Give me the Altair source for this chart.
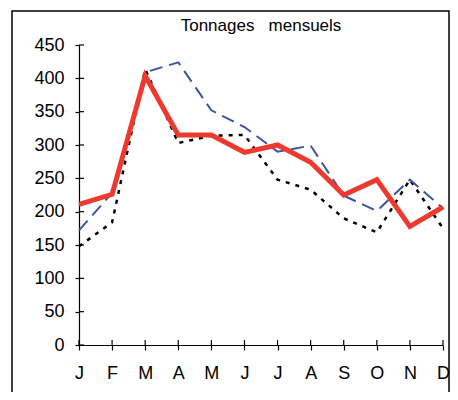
import altair as alt
import pandas as pd

month_labels = ["J", "F", "M", "A", "M", "J", "J", "A", "S", "O", "N", "D"]
serie_rouge = [211, 226, 404, 315, 315, 289, 300, 274, 225, 248, 178, 207]
serie_bleue = [172, 228, 409, 424, 352, 327, 290, 299, 224, 201, 248, 205]
serie_noire = [148, 184, 414, 303, 314, 315, 248, 233, 190, 169, 248, 175]
y_ticks = [0, 50, 100, 150, 200, 250, 300, 350, 400, 450]

rows = []
for name, vals in [("noire", serie_noire), ("bleue", serie_bleue), ("rouge", serie_rouge)]:
    for i, v in enumerate(vals):
        rows.append({"idx": i, "serie": name, "valeur": v})
df = pd.DataFrame(rows)

W, H = 364, 300
x_idx = list(range(len(month_labels)))
label_expr = "%s[datum.value]" % str(month_labels)

x_scale = alt.Scale(domain=[0, 11], nice=False, zero=False)
y_scale = alt.Scale(domain=[0, 450], nice=False, zero=True)

x_axis = alt.Axis(title=None, values=x_idx, labelExpr=label_expr, labelAngle=0,
                  labelFont="Liberation Sans", labelFontSize=18,
                  labelColor="black", labelPadding=14, tickSize=5,
                  tickColor="black", domainColor="black", labelFlush=False,
                  labelOverlap=False, tickWidth=1.2, domainWidth=1.2, grid=False)
y_axis = alt.Axis(title=None, values=y_ticks, labelFont="Liberation Sans",
                  labelFontSize=18, labelColor="black", labelPadding=11,
                  tickSize=4, tickColor="black", domainColor="black",
                  labelFlush=False, labelOverlap=False,
                  tickWidth=1.2, domainWidth=1.2, grid=False)
x_enc = alt.X("idx:Q", scale=x_scale, axis=x_axis)
y_enc = alt.Y("valeur:Q", scale=y_scale, axis=y_axis)

def line(name, color, width, dash=None):
    kw = dict(color=color, strokeWidth=width, strokeJoin="miter")
    if dash:
        kw["strokeDash"] = dash
    return alt.Chart(df[df.serie == name]).mark_line(**kw).encode(
        x=x_enc, y=y_enc, order="idx:Q")

noire = line("noire", "black", 2.5, [4, 6])
bleue = line("bleue", "#3a55a8", 2, [13, 7])
rouge = line("rouge", "#ee3a2e", 5)

ytick_df = pd.DataFrame({"valeur": y_ticks})
inner_y = alt.Chart(ytick_df).mark_rule(color="black", strokeWidth=1.2).encode(
    y=y_enc, x=alt.value(0), x2=alt.value(5))
xtick_df = pd.DataFrame({"idx": x_idx})
inner_x = alt.Chart(xtick_df).mark_rule(color="black", strokeWidth=1.2).encode(
    x=x_enc, y=alt.value(H), y2=alt.value(H - 5))

frame = alt.Chart(pd.DataFrame({"a": [0]})).mark_rect(
    fill=None, stroke="black", strokeWidth=1.5).encode(
    x=alt.value(-67), x2=alt.value(370), y=alt.value(-34), y2=alt.value(380))

chart = alt.layer(noire, bleue, rouge, inner_y, inner_x, frame).properties(
    width=W, height=H,
    title=alt.TitleParams("Tonnages\u00a0\u00a0\u00a0mensuels", font="Liberation Sans",
                          fontSize=17, fontWeight="normal", color="black",
                          anchor="middle", offset=2, dy=27),
    autosize=alt.AutoSizeParams(type="none"),
    padding={"left": 71, "top": 37, "right": 7, "bottom": 47},
    background="white",
).configure_view(stroke=None)

chart.save("out.html", embed_options={"renderer": "svg", "actions": False})
